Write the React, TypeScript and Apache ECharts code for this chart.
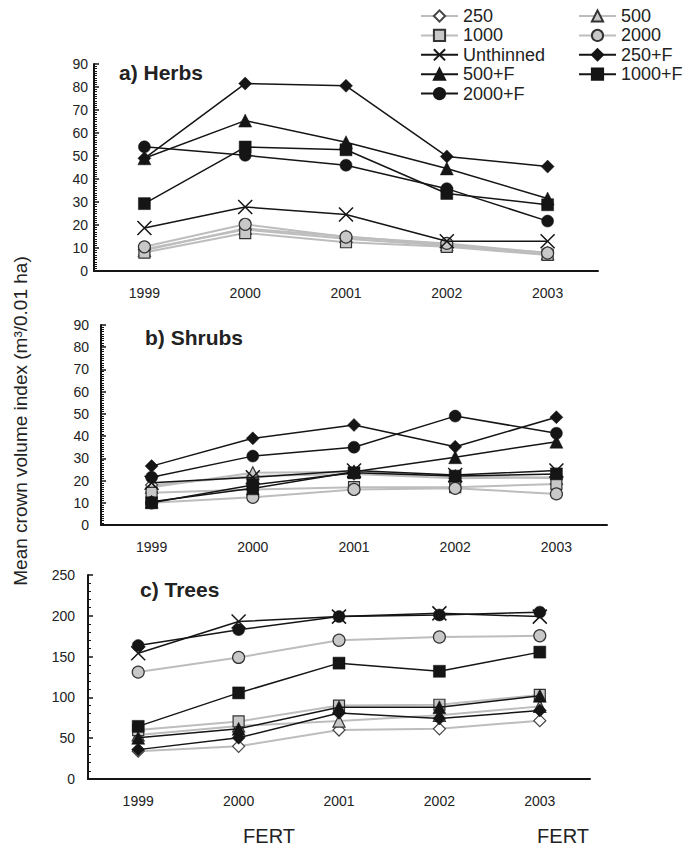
import React, { useEffect, useRef } from "react";
import * as echarts from "echarts";

const years = ["1999", "2000", "2001", "2002", "2003"];

// a) Herbs
const h250 = [9.5, 18, 14, 11, 8];
const h500 = [9, 18.5, 15, 11.5, 7.5];
const h1000 = [8, 16.5, 12.5, 10.5, 7];
const h2000 = [10.5, 20.3, 14.8, 12, 7.8];
const hUn = [18.7, 27.8, 24.6, 12.9, 12.9];
const h250F = [49, 81.5, 80.5, 49.8, 45.4];
const h500F = [49, 65.4, 56, 44.6, 31.5];
const h1000F = [29.3, 53.9, 52.7, 33.7, 28.8];
const h2000F = [54, 50.3, 46, 35.8, 21.7];

// b) Shrubs
const s250 = [18, 22, 23, 21, 21.5];
const s500 = [17, 23.5, 24, 22, 21];
const s1000 = [14.5, 16, 17, 17, 18.5];
const s2000 = [10, 12.5, 16, 16.5, 14];
const sUn = [19, 21.5, 24.5, 22.5, 24.5];
const s250F = [26.5, 39, 45, 35.2, 48.5];
const s500F = [10.5, 16.5, 24, 30.5, 37.5];
const s1000F = [10, 18, 23.5, 22, 23];
const s2000F = [21.5, 31, 35, 49, 41.3];

// c) Trees
const t250 = [34, 40, 60, 61.5, 71.5];
const t500 = [54, 65, 71, 78, 89];
const t1000 = [60, 70.5, 90, 91, 103];
const t2000 = [131, 149, 170, 174, 175.5];
const tUn = [154, 193, 199, 203, 199];
const t250F = [36, 50.5, 81, 74, 84];
const t500F = [50.5, 61.5, 88, 88, 102];
const t1000F = [64.5, 105.5, 142, 132, 155.5];
const t2000F = [163.5, 183, 199, 201, 204.5];

const panelTitles = ["a) Herbs", "b) Shrubs", "c) Trees"];
const yMax = [90, 90, 250];
const yInterval = [10, 10, 50];
const yMinorSplit = [10, 10, 5];
const legendCol1 = ["250", "1000", "Unthinned", "500+F", "2000+F"];
const legendCol2 = ["500", "2000", "250+F", "1000+F"];

const FONT = "'Liberation Sans', Arial, Helvetica, sans-serif";
const GRAY_LINE = "#bdbdbd";
const GRAY_FILL = "#c8c8c8";
const BLACK = "#151515";
const XPATH = "path://M0,0L10,10M10,0L0,10";

type Sty = { symbol: string; size: number; fill: string; border: string; bw: number; line: string; lw: number };

const styles: Record<string, Sty> = {
  "250": { symbol: "diamond", size: 12, fill: "#ffffff", border: "#444", bw: 1.2, line: GRAY_LINE, lw: 2 },
  "500": { symbol: "triangle", size: 12, fill: GRAY_FILL, border: "#333", bw: 1.2, line: GRAY_LINE, lw: 2 },
  "1000": { symbol: "rect", size: 11, fill: GRAY_FILL, border: "#333", bw: 1.2, line: GRAY_LINE, lw: 2 },
  "2000": { symbol: "circle", size: 12, fill: GRAY_FILL, border: "#333", bw: 1.2, line: GRAY_LINE, lw: 2 },
  Unthinned: { symbol: XPATH, size: 14, fill: BLACK, border: BLACK, bw: 1.5, line: BLACK, lw: 1.5 },
  "250+F": { symbol: "diamond", size: 13, fill: BLACK, border: BLACK, bw: 0.5, line: BLACK, lw: 1.5 },
  "500+F": { symbol: "triangle", size: 13, fill: BLACK, border: BLACK, bw: 0.5, line: BLACK, lw: 1.5 },
  "1000+F": { symbol: "rect", size: 12, fill: BLACK, border: BLACK, bw: 0.5, line: BLACK, lw: 1.5 },
  "2000+F": { symbol: "circle", size: 12, fill: BLACK, border: BLACK, bw: 0.5, line: BLACK, lw: 1.5 },
};

const panels: Record<string, number[]>[] = [
  { "250": h250, "500": h500, "1000": h1000, "2000": h2000, Unthinned: hUn, "250+F": h250F, "500+F": h500F, "1000+F": h1000F, "2000+F": h2000F },
  { "250": s250, "500": s500, "1000": s1000, "2000": s2000, Unthinned: sUn, "250+F": s250F, "500+F": s500F, "1000+F": s1000F, "2000+F": s2000F },
  { "250": t250, "500": t500, "1000": t1000, "2000": t2000, Unthinned: tUn, "250+F": t250F, "500+F": t500F, "1000+F": t1000F, "2000+F": t2000F },
];

const order = ["250", "500", "1000", "2000", "Unthinned", "250+F", "500+F", "1000+F", "2000+F"];

export default function App() {
  const ref = useRef<HTMLDivElement>(null);
  useEffect(() => {
    if (!ref.current) return;
    const chart = echarts.init(ref.current, null, { renderer: "svg" });

    const grids = [
      { left: 94, right: 91, top: 64, bottom: 577 },
      { left: 101, right: 82, top: 325, bottom: 323 },
      { left: 88, right: 99, top: 575, bottom: 69 },
    ];
    const labelMargins = [6, 12, 13];

    const xAxis = grids.map((_, i) => ({
      type: "category",
      gridIndex: i,
      data: years,
      boundaryGap: true,
      axisLine: { lineStyle: { color: BLACK, width: 2 } },
      axisTick: { inside: true, length: 5, lineStyle: { color: BLACK, width: 1.5 } },
      axisLabel: { color: "#222", fontSize: 14, fontFamily: FONT, margin: 15 },
      splitLine: { show: false },
    }));

    const yAxis = grids.map((_, i) => ({
      type: "value",
      gridIndex: i,
      min: 0,
      max: yMax[i],
      interval: yInterval[i],
      axisLine: { show: true, lineStyle: { color: BLACK, width: 2 } },
      axisTick: { show: true, inside: true, length: 5, lineStyle: { color: BLACK, width: 1.5 } },
      minorTick: { show: true, splitNumber: yMinorSplit[i], length: 3, lineStyle: { color: BLACK, width: 1 } },
      axisLabel: { color: "#222", fontSize: 14, fontFamily: FONT, margin: labelMargins[i] },
      splitLine: { show: false },
      minorSplitLine: { show: false },
    }));

    const series: any[] = [];
    panels.forEach((p, i) => {
      order.forEach((name) => {
        const s = styles[name];
        series.push({
          type: "line",
          name,
          xAxisIndex: i,
          yAxisIndex: i,
          data: p[name],
          symbol: s.symbol,
          symbolSize: s.size,
          showAllSymbol: true,
          lineStyle: { color: s.line, width: s.lw },
          itemStyle: { color: s.fill, borderColor: s.border, borderWidth: s.bw },
          emphasis: { disabled: true },
          z: s.line === GRAY_LINE ? 2 : 3,
        });
      });
    });

    const legendBase = {
      orient: "vertical",
      top: 2,
      itemWidth: 37,
      itemHeight: 14,
      itemGap: 1.4,
      selectedMode: false,
      textStyle: { fontSize: 18, fontFamily: FONT, color: "#222", lineHeight: 14, padding: [0, 0, 0, 0] },
    };

    chart.setOption({
      animation: false,
      backgroundColor: "#ffffff",
      grid: grids,
      xAxis,
      yAxis,
      series,
      legend: [
        { ...legendBase, left: 415, data: legendCol1 },
        { ...legendBase, left: 573, data: legendCol2 },
      ],
      graphic: [
        { type: "text", left: 119, top: 62, style: { text: panelTitles[0], font: `bold 21px ${FONT}`, fill: "#222" } },
        { type: "text", left: 145, top: 327, style: { text: panelTitles[1], font: `bold 21px ${FONT}`, fill: "#222" } },
        { type: "text", left: 140, top: 579, style: { text: panelTitles[2], font: `bold 21px ${FONT}`, fill: "#222" } },
        {
          type: "text",
          x: 20,
          y: 421,
          rotation: Math.PI / 2,
          style: {
            text: "Mean crown volume index (m³/0.01 ha)",
            font: `19px ${FONT}`,
            fill: "#222",
            align: "center",
            verticalAlign: "middle",
          },
        },
        { type: "text", x: 269, y: 836, style: { text: "FERT", font: `20px ${FONT}`, fill: "#222", align: "center", verticalAlign: "middle" } },
        { type: "text", x: 563, y: 836, style: { text: "FERT", font: `20px ${FONT}`, fill: "#222", align: "center", verticalAlign: "middle" } },
      ],
    });

    return () => chart.dispose();
  }, []);

  return <div ref={ref} style={{ position: "fixed", left: 0, top: 0, width: 689, height: 848 }} />;
}
